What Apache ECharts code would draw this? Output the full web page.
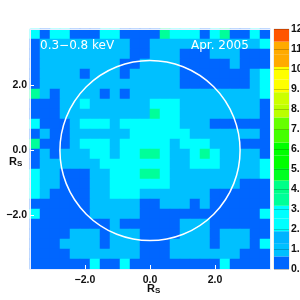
<!DOCTYPE html>
<html><head><meta charset="utf-8">
<style>html,body{margin:0;padding:0;background:#fff}#c{width:300px;height:300px}</style>
<script src="https://cdn.jsdelivr.net/npm/echarts@6/dist/echarts.min.js"></script>
</head><body><div id="c"></div>
<script>
// Heat-map values, top row first
const rows = [
[2.4,0.4,2.4,2.4,0.4,0.4,0.4,2.4,2.4,0.4,0.4,0.4,0.4,3.6,2.4,2.4,2.4,0.4,2.4,3.6,0.4,0.4,2.4,0.4],
[0.4,1.2,1.2,1.2,1.2,1.2,1.2,1.2,1.2,1.2,0.4,0.4,1.2,1.2,1.2,1.2,1.2,1.2,1.2,1.2,1.2,1.2,1.2,2.4],
[0.4,1.2,1.2,1.2,1.2,1.2,1.2,1.2,1.2,1.2,0.4,0.4,1.2,1.2,1.2,0.4,0.4,0.4,1.2,1.2,1.2,0.4,0.4,0.4],
[0.4,1.2,1.2,1.2,1.2,1.2,1.2,1.2,1.2,0.4,0.4,1.2,1.2,1.2,1.2,0.4,0.4,0.4,0.4,0.4,1.2,0.4,0.4,0.4],
[0.4,1.2,1.2,1.2,1.2,0.4,1.2,1.2,1.2,0.4,1.2,1.2,1.2,1.2,1.2,0.4,0.4,0.4,0.4,0.4,0.4,0.4,1.2,2.4],
[0.4,1.2,1.2,1.2,1.2,1.2,1.2,1.2,1.2,1.2,1.2,1.2,1.2,1.2,1.2,0.4,0.4,0.4,0.4,0.4,0.4,0.4,1.2,2.4],
[3.6,1.2,0.4,1.2,1.2,1.2,1.2,0.4,1.2,0.4,1.2,1.2,1.2,1.2,1.2,1.2,1.2,1.2,1.2,1.2,1.2,1.2,1.2,2.4],
[0.4,0.4,0.4,1.2,1.2,2.4,1.2,1.2,1.2,1.2,1.2,1.2,2.4,2.4,2.4,1.2,1.2,1.2,1.2,1.2,1.2,1.2,1.2,0.4],
[0.4,0.4,0.4,1.2,1.2,1.2,1.2,1.2,1.2,1.2,1.2,1.2,3.6,2.4,2.4,1.2,1.2,1.2,1.2,1.2,1.2,1.2,1.2,0.4],
[2.4,0.4,0.4,0.4,1.2,2.4,2.4,2.4,1.2,2.4,2.4,2.4,2.4,2.4,2.4,1.2,1.2,1.2,0.4,0.4,0.4,0.4,0.4,0.4],
[0.4,1.2,0.4,0.4,1.2,1.2,1.2,1.2,1.2,1.2,2.4,2.4,2.4,2.4,2.4,2.4,1.2,1.2,1.2,1.2,1.2,1.2,1.2,0.4],
[3.6,0.4,0.4,0.4,1.2,2.4,2.4,2.4,1.2,2.4,2.4,2.4,2.4,2.4,1.2,2.4,2.4,2.4,1.2,1.2,1.2,0.4,0.4,0.4],
[0.4,1.2,0.4,1.2,1.2,1.2,2.4,2.4,1.2,2.4,2.4,3.6,3.6,2.4,1.2,1.2,2.4,3.6,2.4,1.2,1.2,1.2,1.2,0.4],
[0.4,1.2,1.2,1.2,1.2,1.2,1.2,2.4,2.4,2.4,2.4,2.4,2.4,2.4,1.2,1.2,2.4,2.4,2.4,1.2,1.2,1.2,1.2,2.4],
[2.4,1.2,1.2,0.4,0.4,0.4,1.2,1.2,2.4,2.4,2.4,3.6,3.6,2.4,1.2,1.2,1.2,1.2,1.2,1.2,1.2,1.2,1.2,2.4],
[2.4,1.2,1.2,0.4,0.4,0.4,1.2,1.2,2.4,2.4,2.4,2.4,2.4,2.4,1.2,1.2,1.2,1.2,1.2,1.2,1.2,0.4,0.4,0.4],
[2.4,1.2,0.4,0.4,0.4,0.4,1.2,1.2,2.4,2.4,2.4,1.2,1.2,1.2,1.2,1.2,1.2,1.2,0.4,0.4,0.4,0.4,0.4,0.4],
[0.4,0.4,0.4,0.4,0.4,0.4,1.2,1.2,1.2,1.2,1.2,0.4,0.4,1.2,1.2,1.2,0.4,1.2,0.4,0.4,0.4,0.4,0.4,0.4],
[2.4,0.4,0.4,0.4,0.4,0.4,1.2,1.2,1.2,1.2,1.2,0.4,0.4,0.4,0.4,0.4,0.4,0.4,0.4,0.4,0.4,0.4,0.4,2.4],
[0.4,0.4,0.4,0.4,0.4,0.4,0.4,0.4,1.2,0.4,0.4,0.4,0.4,0.4,0.4,1.2,1.2,1.2,0.4,0.4,0.4,0.4,0.4,0.4],
[0.4,0.4,0.4,0.4,1.2,1.2,1.2,0.4,1.2,1.2,1.2,0.4,0.4,0.4,0.4,1.2,1.2,1.2,0.4,1.2,1.2,1.2,0.4,0.4],
[0.4,0.4,0.4,1.2,1.2,1.2,1.2,0.4,1.2,1.2,1.2,0.4,0.4,0.4,1.2,1.2,1.2,1.2,0.4,1.2,1.2,1.2,0.4,2.4],
[0.4,0.4,0.4,0.4,1.2,1.2,1.2,1.2,1.2,1.2,1.2,0.4,0.4,0.4,1.2,1.2,1.2,1.2,1.2,1.2,1.2,0.4,0.4,0.4],
[0.4,0.4,0.4,0.4,0.4,0.4,2.4,0.4,0.4,2.4,0.4,0.4,0.4,0.4,0.4,0.4,0.4,0.4,0.4,2.4,0.4,0.4,0.4,0.4]
];
const rowLabels = rows.map((r, i) => String(i));
const colLabels = rows[0].map((v, i) => String(i));
const axisTicks = [-2, 0, 2];
const sunRadius = 2.77;
const bandEdges = [0,0.63,1.26,1.89,2.53,3.16,3.79,4.42,5.05,5.68,6.32,6.95,7.58,8.21,8.84,9.47,10.1,10.74,11.37,12];
const bandColors = ['#0066ff','#00c0ff','#00b4ff','#00ffff','#00ffff','#00ff99','#00ff88','#00ff22','#00ff00','#00ff00',
  '#44ff00','#66ff00','#bbff00','#ccff00','#ffff00','#ffff00','#ffaa00','#ffaa00','#ff5500'];

const cells = [];
rows.forEach((r, y) => r.forEach((v, x) => cells.push([x, y, v])));
const bands = bandColors.map((c, i) => ['c', bandEdges[i], bandEdges[i + 1], i]);
const txt = { fontFamily: 'Liberation Sans', fontSize: 10.5, color: '#111', fontWeight: 'bold' };
const fmt = v => (v < 0 ? '\u2212' : '') + Math.abs(v).toFixed(1);
const frame = { show: true, onZero: false, lineStyle: { color: '#e8eeff', width: 1 } };
const subText = {
  a: { fontFamily: 'Liberation Sans', fontSize: 11, fontWeight: 'bold', fill: '#111' },
  b: { fontFamily: 'Liberation Sans', fontSize: 8, fontWeight: 'bold', fill: '#111', verticalAlign: 'bottom', padding: [4, 0, 0, 0] }
};

echarts.init(document.getElementById('c'), null, { renderer: 'canvas' }).setOption({
  animation: false,
  backgroundColor: '#fff',
  grid: [
    { left: 30, top: 29, width: 240, height: 240, outerBoundsMode: 'none', containLabel: false },
    { left: 274, top: 29, width: 15, height: 240, outerBoundsMode: 'none', containLabel: false, show: true, backgroundColor: 'transparent', borderColor: '#ddd', borderWidth: 1 }
  ],
  visualMap: {
    show: false, type: 'piecewise', seriesIndex: 0, dimension: 2,
    pieces: bands.map(b => ({ gte: b[1], lt: b[2], color: bandColors[b[3]] }))
  },
  xAxis: [
    { type: 'category', gridIndex: 0, data: colLabels, position: 'top', z: 10, axisLine: frame, axisTick: { show: false }, axisLabel: { show: false }, splitLine: { show: false } },
    { type: 'value', gridIndex: 0, min: -3.69, max: 3.69, position: 'bottom', z: 10, axisLine: frame,
      axisTick: { show: true, inside: true, length: 4, customValues: axisTicks, lineStyle: { color: '#fff', width: 1 } },
      axisLabel: Object.assign({ show: true, margin: 6, customValues: axisTicks, formatter: fmt }, txt), splitLine: { show: false } },
    { type: 'category', gridIndex: 1, data: ['c'], show: false }
  ],
  yAxis: [
    { type: 'category', gridIndex: 0, data: rowLabels, inverse: true, position: 'right', z: 10, axisLine: frame, axisTick: { show: false }, axisLabel: { show: false }, splitLine: { show: false } },
    { type: 'value', gridIndex: 0, min: -3.66, max: 3.72, position: 'left', z: 10, axisLine: frame,
      axisTick: { show: true, inside: true, length: 4, customValues: axisTicks, lineStyle: { color: '#fff', width: 1 } },
      axisLabel: Object.assign({ show: true, margin: 3, customValues: axisTicks, formatter: fmt }, txt), splitLine: { show: false } },
    { type: 'value', gridIndex: 1, min: 0, max: 12, interval: 1, position: 'right', z: 10,
      axisLine: { show: false },
      axisTick: { show: true, inside: true, length: 15, lineStyle: { color: 'rgba(0,0,0,0.2)', width: 1 } },
      axisLabel: Object.assign({ show: true, margin: 2, padding: [0, 0, 4, 0], formatter: fmt, hideOverlap: false, showMinLabel: true, showMaxLabel: true }, txt), splitLine: { show: false } }
  ],
  series: [
    { type: 'heatmap', xAxisIndex: 0, yAxisIndex: 0, data: cells, progressive: 0, emphasis: { disabled: true }, itemStyle: { borderWidth: 0 } },
    { type: 'custom', xAxisIndex: 1, yAxisIndex: 1, silent: true, z: 5, clip: false, data: [[0, 0, sunRadius]],
      renderItem: (p, api) => {
        const c = api.coord([api.value(0), api.value(1)]);
        const r = api.size([api.value(2), 0])[0];
        return { type: 'circle', shape: { cx: c[0], cy: c[1] + 0.5, r }, style: { fill: 'none', stroke: '#fff', lineWidth: 1.5 } };
      } },
    { type: 'custom', xAxisIndex: 2, yAxisIndex: 2, silent: true, z: 3, data: bands,
      encode: { x: 0, y: 1 }, dimensions: ['c', 'lo', 'hi', 'idx'],
      renderItem: (p, api) => {
        const a = api.coord([0, api.value(1)]);
        const b = api.coord([0, api.value(2)]);
        return { type: 'rect', shape: { x: p.coordSys.x, y: b[1], width: p.coordSys.width, height: a[1] - b[1] }, style: { fill: bandColors[api.value(3)] } };
      } }
  ],
  graphic: [
    { type: 'text', z: 20, left: 40, top: 40, style: { text: '0.3\u22120.8 keV', fill: '#fff', font: '12px "DejaVu Sans"' } },
    { type: 'text', z: 20, left: 191, top: 40, style: { text: 'Apr. 2005', fill: '#fff', font: '12px "DejaVu Sans"' } },
    { type: 'text', z: 20, left: 9, top: 156, style: { rich: subText, text: '{a|R}{b|S}' } },
    { type: 'text', z: 20, left: 147, top: 283, style: { rich: subText, text: '{a|R}{b|S}' } }
  ]
});
</script></body></html>
